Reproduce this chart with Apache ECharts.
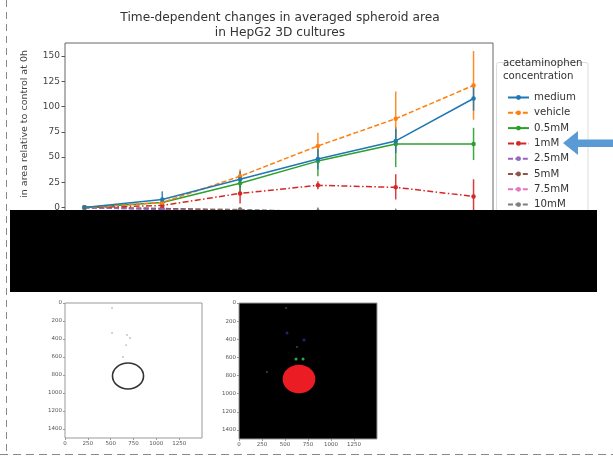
<!DOCTYPE html>
<html><head><meta charset="utf-8">
<script src="https://cdn.jsdelivr.net/npm/echarts@6/dist/echarts.min.js"></script>
<style>html,body{margin:0;padding:0;background:#fff}#c{width:613px;height:458px}</style>
</head><body><div id="c"></div>
<script>
// ---- main chart data ----
const timeIndex = [0, 1, 2, 3, 4, 5];
const seriesNames = ['medium', 'vehicle', '0.5mM', '1mM', '2.5mM', '5mM', '7.5mM', '10mM'];
const yTickValues = [0, 25, 50, 75, 100, 125, 150];

const medium = [0, 8, 28, 48, 66, 108];
const vehicle = [0, 5, 31, 61, 88, 121];
const mM0_5 = [0, 5, 24, 46, 63, 63];
const mM1 = [0, 2, 14, 22, 20, 11];
const mM2_5 = [0, -2, -4, -6, -8, -10];
const mM5 = [0, -1, -3, -5, -7, -9];
const mM7_5 = [0, -2, -5, -8, -11, -14];
const mM10 = [0, -1, -2, -4, -6, -8];

const mediumErrLow = [0, -2, 20, 38, 54, 96];
const mediumErrHigh = [0, 16, 36, 58, 78, 122];
const vehicleErrLow = [0, 2, 22, 48, 60, 87];
const vehicleErrHigh = [0, 8, 38, 74, 115, 155];
const mM0_5ErrLow = [0, 2, 15, 31, 40, 47];
const mM0_5ErrHigh = [0, 8, 31, 62, 80, 79];
const mM1ErrLow = [0, 0, 4, 18, 8, -5];
const mM1ErrHigh = [0, 4, 23, 26, 33, 28];
const mM2_5ErrLow = [0, -4, -7, -10, -13, -16];
const mM2_5ErrHigh = [0, 0, -1, -2, -3, -4];
const mM5ErrLow = [0, -3, -6, -9, -12, -15];
const mM5ErrHigh = [0, 0, 0, -1, -2, -3];
const mM7_5ErrLow = [0, -4, -8, -13, -17, -21];
const mM7_5ErrHigh = [0, 0, -2, -3, -5, -7];
const mM10ErrLow = [0, -3, -5, -8, -11, -14];
const mM10ErrHigh = [0, 0, 0, 0, -1, -2];

// ---- inset image data ----
const imgXTicks = [0, 250, 500, 750, 1000, 1250];
const imgYTicks = [0, 200, 400, 600, 800, 1000, 1200, 1400];
const leftContour = [[690, 811, 170, 144]];      // cx, cy, rx, ry
const leftSpecks = [[515, 55], [515, 333], [679, 355], [712, 389], [668, 467], [635, 600]];
const rightBlob = [[652, 838, 178, 158]];
const rightGreen = [[620, 617], [696, 617]];
const rightBlue = [[707, 408], [522, 331]];
const rightGrey = [[304, 761], [511, 55], [630, 485]];

const colors = ['#1f77b4', '#ff7f0e', '#2ca02c', '#d62728', '#9467bd', '#8c564b', '#e377c2', '#7f7f7f'];
const dashes = ['solid', [5, 2.4], 'solid', [6, 2.4, 1.5, 2.4], [5, 2.4], [5, 2.4], [5, 2.4], [5, 2.4]];
const values = [medium, vehicle, mM0_5, mM1, mM2_5, mM5, mM7_5, mM10];
const lows = [mediumErrLow, vehicleErrLow, mM0_5ErrLow, mM1ErrLow, mM2_5ErrLow, mM5ErrLow, mM7_5ErrLow, mM10ErrLow];
const highs = [mediumErrHigh, vehicleErrHigh, mM0_5ErrHigh, mM1ErrHigh, mM2_5ErrHigh, mM5ErrHigh, mM7_5ErrHigh, mM10ErrHigh];

const FONT = 'DejaVu Sans';
const series = [];
for (let k = seriesNames.length - 1; k >= 0; k--) {
  const col = colors[k];
  series.push({
    type: 'custom', name: seriesNames[k] + ' err', xAxisIndex: 0, yAxisIndex: 0, z: 2,
    data: timeIndex.map((t, i) => [t, lows[k][i], highs[k][i]]),
    encode: { x: 0, y: [1, 2] },
    renderItem: (params, api) => {
      const p1 = api.coord([api.value(0), api.value(1)]);
      const p2 = api.coord([api.value(0), api.value(2)]);
      return { type: 'line', shape: { x1: p1[0], y1: p1[1], x2: p2[0], y2: p2[1] }, style: { stroke: col, lineWidth: 1.5, opacity: 0.9 } };
    }
  });
}
for (let k = seriesNames.length - 1; k >= 0; k--) {
  series.push({
    type: 'line', name: seriesNames[k], xAxisIndex: 0, yAxisIndex: 0, z: 3,
    data: timeIndex.map((t, i) => [t, values[k][i]]),
    symbol: 'circle', symbolSize: 4.5, showSymbol: true,
    itemStyle: { color: colors[k] },
    lineStyle: { color: colors[k], width: 1.5, type: dashes[k] },
    emphasis: { disabled: true }
  });
}
series.push({
  type: 'custom', xAxisIndex: 1, yAxisIndex: 1, data: leftContour,
  renderItem: (params, api) => {
    const c = api.coord([api.value(0), api.value(1)]);
    const s = api.size([api.value(2), api.value(3)]);
    return { type: 'ellipse', shape: { cx: c[0], cy: c[1], rx: s[0], ry: s[1] }, style: { fill: 'none', stroke: '#333', lineWidth: 1.6 } };
  }
});
series.push({ type: 'scatter', xAxisIndex: 1, yAxisIndex: 1, data: leftSpecks, symbolSize: 1.8, itemStyle: { color: '#aaa' } });
series.push({
  type: 'custom', xAxisIndex: 2, yAxisIndex: 2, data: rightBlob,
  renderItem: (params, api) => {
    const c = api.coord([api.value(0), api.value(1)]);
    const s = api.size([api.value(2), api.value(3)]);
    return { type: 'ellipse', shape: { cx: c[0], cy: c[1], rx: s[0], ry: s[1] }, style: { fill: '#ec1c24', stroke: 'none' } };
  }
});
series.push({ type: 'scatter', xAxisIndex: 2, yAxisIndex: 2, data: rightGreen, symbolSize: 3, itemStyle: { color: '#3ccf55' } });
series.push({ type: 'scatter', xAxisIndex: 2, yAxisIndex: 2, data: rightBlue, symbolSize: 3, itemStyle: { color: '#2a2a88' } });
series.push({ type: 'scatter', xAxisIndex: 2, yAxisIndex: 2, data: rightGrey, symbolSize: 2, itemStyle: { color: '#555' } });

const imgXAxis = (gi) => ({
  type: 'value', gridIndex: gi, min: 0, max: 1500, position: 'bottom',
  axisLine: { show: false, onZero: false }, splitLine: { show: false },
  axisTick: { show: true, length: 2, lineStyle: { color: '#999' }, customValues: imgXTicks },
  axisLabel: { fontSize: 5.5, color: '#555', margin: 3, fontFamily: FONT, customValues: imgXTicks, formatter: v => String(v) }
});
const imgYAxis = (gi) => ({
  type: 'value', gridIndex: gi, min: 0, max: 1500, inverse: true, position: 'left',
  axisLine: { show: false, onZero: false }, splitLine: { show: false },
  axisTick: { show: true, length: 2, lineStyle: { color: '#999' }, customValues: imgYTicks },
  axisLabel: { fontSize: 5.5, color: '#555', margin: 3, fontFamily: FONT, customValues: imgYTicks, formatter: v => String(v) }
});

const chart = echarts.init(document.getElementById('c'), null, { renderer: 'canvas' });
chart.setOption({
  animation: false,
  backgroundColor: '#fff',
  grid: [
    { left: 65, top: 43, width: 428, height: 215, show: true, borderColor: '#666', borderWidth: 1, backgroundColor: '#fff' },
    { left: 65, top: 303, width: 137, height: 135, show: true, borderColor: '#999', borderWidth: 1, backgroundColor: '#fff' },
    { left: 239, top: 303, width: 138, height: 136, show: true, borderColor: '#999', borderWidth: 1, backgroundColor: '#000' }
  ],
  xAxis: [
    { type: 'value', gridIndex: 0, min: -0.25, max: 5.25, axisLine: { show: false, onZero: false }, splitLine: { show: false }, axisTick: { show: false }, axisLabel: { show: false } },
    imgXAxis(1), imgXAxis(2)
  ],
  yAxis: [
    { type: 'value', gridIndex: 0, min: -50, max: 163, position: 'left', axisLine: { show: false, onZero: false }, splitLine: { show: false },
      axisTick: { show: true, length: 3.5, lineStyle: { color: '#555' }, customValues: yTickValues },
      axisLabel: { fontSize: 9, color: '#444', margin: 5, fontFamily: FONT, customValues: yTickValues } },
    imgYAxis(1), imgYAxis(2)
  ],
  legend: {
    data: seriesNames, orient: 'vertical', left: 507, top: 92.5, padding: 0,
    itemWidth: 21, itemHeight: 6, itemGap: 5.3,
    textStyle: { fontSize: 10.2, color: '#333', fontFamily: FONT, lineHeight: 10 },
    selectedMode: false
  },
  series: series,
  graphic: [
    { type: 'text', x: 280, y: 25, style: { text: 'Time-dependent changes in averaged spheroid area\nin HepG2 3D cultures', font: '12.2px "DejaVu Sans"', fill: '#333', textAlign: 'center', textVerticalAlign: 'middle', lineHeight: 15 }, z: 10 },
    { type: 'text', x: 25, y: 50, rotation: Math.PI / 2, style: { text: 'in area relative to control at 0h', font: '9.5px "DejaVu Sans"', fill: '#444', textAlign: 'right', textVerticalAlign: 'middle' }, z: 10 },
    { type: 'rect', shape: { x: 496.5, y: 62.5, width: 91.5, height: 180, r: 2 }, style: { fill: '#fff', stroke: '#ddd', lineWidth: 1 }, z: 1 },
    { type: 'text', x: 503, y: 70, style: { text: 'acetaminophen\nconcentration', font: '10.2px "DejaVu Sans"', fill: '#333', textVerticalAlign: 'middle', lineHeight: 13 }, z: 10 },
    { type: 'polygon', shape: { points: [[563, 143], [578, 131], [578, 139.5], [613, 139.5], [613, 147], [578, 147], [578, 155]] }, style: { fill: '#5B9BD5' }, z: 50 },
    { type: 'rect', shape: { x: 10, y: 210, width: 587, height: 82 }, style: { fill: '#000' }, z: 100 },
    { type: 'line', shape: { x1: 6.5, y1: 0, x2: 6.5, y2: 455 }, style: { stroke: '#888', lineWidth: 1, lineDash: [7, 5] }, z: 100 },
    { type: 'line', shape: { x1: 0, y1: 454.5, x2: 613, y2: 454.5 }, style: { stroke: '#888', lineWidth: 1, lineDash: [8, 5] }, z: 100 }
  ]
});
</script>
</body></html>
